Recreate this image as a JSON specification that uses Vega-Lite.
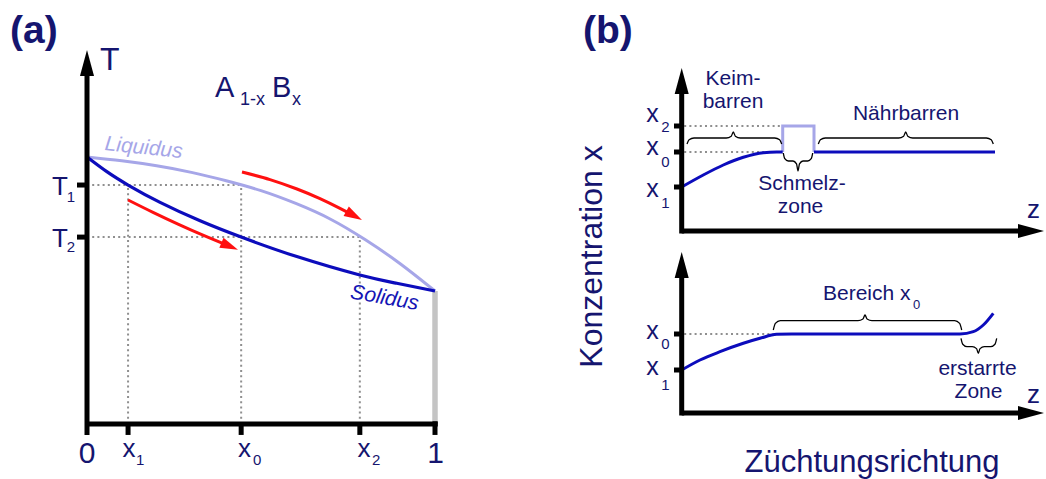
{
 "$schema": "https://vega.github.io/schema/vega-lite/v6.json",
 "padding": 0,
 "spacing": 0,
 "bounds": "flush",
 "background": "white",
 "config": {"view": {"stroke": null}, "text": {"font": "Liberation Sans"}},
 "datasets": {
  "aDots": [
   {"x":0,"y":0.895,"x2":0.443,"y2":0.895},
   {"x":0,"y":0.70,"x2":0.784,"y2":0.70},
   {"x":0.118,"y":0,"x2":0.118,"y2":0.895},
   {"x":0.443,"y":0,"x2":0.443,"y2":0.895},
   {"x":0.784,"y":0,"x2":0.784,"y2":0.70}
  ],
  "aBar": [{"x":1.0,"y":0,"x2":1.0,"y2":0.498}],
  "aAxes": [
   {"x":0,"y":-0.041,"x2":0,"y2":1.352},
   {"x":0,"y":0,"x2":1.008,"y2":0},
   {"x":0.118,"y":0,"x2":0.118,"y2":-0.041},
   {"x":0.443,"y":0,"x2":0.443,"y2":-0.041},
   {"x":0.784,"y":0,"x2":0.784,"y2":-0.041},
   {"x":1.0,"y":0.01,"x2":1.0,"y2":-0.041},
   {"x":-0.0287,"y":0.895,"x2":0,"y2":0.895},
   {"x":-0.0287,"y":0.70,"x2":0,"y2":0.70}
  ],
  "aHead": [{"x":0,"y":1.352}],
  "aLiq": [
   {"x":0,"y":1.0},{"x":0.1,"y":0.9856},{"x":0.2,"y":0.9669},{"x":0.3,"y":0.9425},
   {"x":0.4,"y":0.9111},{"x":0.5,"y":0.874},{"x":0.6,"y":0.826},{"x":0.7,"y":0.767},
   {"x":0.8,"y":0.69},{"x":0.9,"y":0.6003},{"x":1.0,"y":0.498}
  ],
  "aSol": [
   {"x":0,"y":1.0},{"x":0.057,"y":0.945},{"x":0.118,"y":0.895},{"x":0.21,"y":0.830},
   {"x":0.325,"y":0.761},{"x":0.443,"y":0.70},{"x":0.603,"y":0.627},{"x":0.784,"y":0.558},
   {"x":0.89,"y":0.527},{"x":1.0,"y":0.498}
  ],
  "aRed": [
   {"a":"lower","x":0.1178,"y":0.839},{"a":"lower","x":0.1897,"y":0.7925},{"a":"lower","x":0.2615,"y":0.7485},{"a":"lower","x":0.3333,"y":0.7071},{"a":"lower","x":0.4101,"y":0.6655},
   {"a":"upper","x":0.4454,"y":0.9438},{"a":"upper","x":0.5259,"y":0.9154},{"a":"upper","x":0.6034,"y":0.8801},{"a":"upper","x":0.6695,"y":0.8442},{"a":"upper","x":0.727,"y":0.8078},{"a":"upper","x":0.7675,"y":0.7801}
  ],
  "aRedHead": [{"x":0.4101,"y":0.6655,"ang":23},{"x":0.7675,"y":0.7801,"ang":29}],
  "aBold": [{"x":-0.2213,"y":1.427,"t":"(a)"}],
  "aTitleT": [{"x":0.0374,"y":1.326,"t":"T"}],
  "aFormula": [{"x":0.3678,"y":1.2247,"t":"A"},{"x":0.5316,"y":1.2247,"t":"B"}],
  "aFormulaSub": [{"x":0.4397,"y":1.1948,"t":"1-x"},{"x":0.589,"y":1.1948,"t":"x"}],
  "aLiqLabel": [{"x":0.161,"y":1.011,"t":"Liquidus"}],
  "aSolLabel": [{"x":0.852,"y":0.449,"t":"Solidus"}],
  "aTLabels": [{"x":-0.0776,"y":0.8577,"t":"T"},{"x":-0.0776,"y":0.664,"t":"T"}],
  "aTSubs": [{"x":-0.046,"y":0.8315,"t":"1"},{"x":-0.046,"y":0.6453,"t":"2"}],
  "aDigits": [{"x":0,"y":-0.1472,"t":"0"},{"x":1.0014,"y":-0.1472,"t":"1"}],
  "aXLabels": [{"x":0.102,"y":-0.1225,"t":"x"},{"x":0.4339,"y":-0.1225,"t":"x"},{"x":0.7773,"y":-0.1225,"t":"x"}],
  "aXSubs": [{"x":0.1408,"y":-0.1536,"t":"1"},{"x":0.477,"y":-0.1536,"t":"0"},{"x":0.819,"y":-0.1536,"t":"2"}],

  "b1Axes": [
   {"x":0,"y":-0.025,"x2":0,"y2":1.50},
   {"x":0,"y":0,"x2":3.493,"y2":0},
   {"x":-0.077,"y":0.44,"x2":0,"y2":0.44},
   {"x":-0.077,"y":0.79,"x2":0,"y2":0.79},
   {"x":-0.077,"y":1.05,"x2":0,"y2":1.05}
  ],
  "b1HeadUp": [{"x":0,"y":1.50}],
  "b1HeadRight": [{"x":3.493,"y":0}],
  "b1Dots": [
   {"x":0.025,"y":1.05,"x2":1.01,"y2":1.05},
   {"x":0.025,"y":0.79,"x2":0.95,"y2":0.79}
  ],
  "b1Zone": [
   {"i":0,"x":1.01,"y":0.79},{"i":1,"x":1.01,"y":1.05},{"i":2,"x":1.323,"y":1.05},{"i":3,"x":1.323,"y":0.79}
  ],
  "b1Curve": [
   {"s":"seed","x":0,"y":0.44},{"s":"seed","x":0.216,"y":0.56},{"s":"seed","x":0.416,"y":0.66},
   {"s":"seed","x":0.616,"y":0.737},{"s":"seed","x":0.816,"y":0.783},{"s":"seed","x":0.95,"y":0.79},
   {"s":"seed","x":1.01,"y":0.79},
   {"s":"feed","x":1.323,"y":0.79},{"s":"feed","x":3.133,"y":0.79}
  ],
  "b1Braces": [
   {"b":"keim","x":0.053,"y":0.87},{"b":"keim","x":0.0735,"y":0.912},{"b":"keim","x":0.123,"y":0.93},
   {"b":"keim","x":0.446,"y":0.93},{"b":"keim","x":0.4955,"y":0.948},{"b":"keim","x":0.516,"y":0.99},
   {"b":"keim","x":0.5365,"y":0.948},{"b":"keim","x":0.586,"y":0.93},{"b":"keim","x":0.93,"y":0.93},
   {"b":"keim","x":0.9795,"y":0.912},{"b":"keim","x":1.0,"y":0.87},
   {"b":"naehr","x":1.366,"y":0.87},{"b":"naehr","x":1.3865,"y":0.912},{"b":"naehr","x":1.436,"y":0.93},
   {"b":"naehr","x":2.17,"y":0.93},{"b":"naehr","x":2.2195,"y":0.948},{"b":"naehr","x":2.24,"y":0.99},
   {"b":"naehr","x":2.2605,"y":0.948},{"b":"naehr","x":2.31,"y":0.93},{"b":"naehr","x":3.046,"y":0.93},
   {"b":"naehr","x":3.0955,"y":0.912},{"b":"naehr","x":3.116,"y":0.87},
   {"b":"zone","x":1.016,"y":0.78},{"b":"zone","x":1.0307,"y":0.7234},{"b":"zone","x":1.066,"y":0.70},
   {"b":"zone","x":1.113,"y":0.70},{"b":"zone","x":1.1484,"y":0.6707},{"b":"zone","x":1.163,"y":0.60},
   {"b":"zone","x":1.1777,"y":0.6707},{"b":"zone","x":1.213,"y":0.70},{"b":"zone","x":1.26,"y":0.70},
   {"b":"zone","x":1.2953,"y":0.7234},{"b":"zone","x":1.31,"y":0.78}
  ],
  "b1Bold": [{"x":-0.987,"y":1.88,"t":"(b)"}],
  "b1Words": [
   {"x":0.513,"y":1.46,"t":"Keim-"},{"x":0.513,"y":1.227,"t":"barren"},
   {"x":2.243,"y":1.11,"t":"Nährbarren"},
   {"x":1.203,"y":0.41,"t":"Schmelz-"},{"x":1.188,"y":0.18,"t":"zone"}
  ],
  "b1Z": [{"x":3.453,"y":0.13,"t":"z"}],
  "b1XLabels": [{"x":-0.355,"y":1.093,"t":"x"},{"x":-0.355,"y":0.76,"t":"x"},{"x":-0.355,"y":0.343,"t":"x"}],
  "b1XSubs": [{"x":-0.205,"y":0.993,"t":"2"},{"x":-0.205,"y":0.643,"t":"0"},{"x":-0.205,"y":0.23,"t":"1"}],

  "b2Axes": [
   {"x":0,"y":-0.025,"x2":0,"y2":1.48},
   {"x":0,"y":0,"x2":3.493,"y2":0},
   {"x":-0.077,"y":0.43,"x2":0,"y2":0.43},
   {"x":-0.077,"y":0.79,"x2":0,"y2":0.79}
  ],
  "b2HeadUp": [{"x":0,"y":1.48}],
  "b2HeadRight": [{"x":3.493,"y":0}],
  "b2Dots": [{"x":0.025,"y":0.79,"x2":0.916,"y2":0.79}],
  "b2Curve": [
   {"x":0,"y":0.43},{"x":0.183,"y":0.53},{"x":0.383,"y":0.613},{"x":0.616,"y":0.697},
   {"x":0.783,"y":0.747},{"x":0.95,"y":0.787},{"x":1.1,"y":0.79},{"x":2.783,"y":0.79},
   {"x":2.916,"y":0.813},{"x":3.016,"y":0.88},{"x":3.116,"y":0.997}
  ],
  "b2Braces": [
   {"b":"bereich","x":0.916,"y":0.83},{"b":"bereich","x":0.9365,"y":0.8958},{"b":"bereich","x":0.986,"y":0.923},
   {"b":"bereich","x":1.763,"y":0.923},{"b":"bereich","x":1.8125,"y":0.9397},{"b":"bereich","x":1.833,"y":0.98},
   {"b":"bereich","x":1.8535,"y":0.9397},{"b":"bereich","x":1.903,"y":0.923},{"b":"bereich","x":2.73,"y":0.923},
   {"b":"bereich","x":2.7795,"y":0.8958},{"b":"bereich","x":2.8,"y":0.83},
   {"b":"erstarrt","x":2.793,"y":0.747},{"b":"erstarrt","x":2.8106,"y":0.6876},{"b":"erstarrt","x":2.853,"y":0.663},
   {"b":"erstarrt","x":2.906,"y":0.663},{"b":"erstarrt","x":2.9484,"y":0.6437},{"b":"erstarrt","x":2.966,"y":0.597},
   {"b":"erstarrt","x":2.9836,"y":0.6437},{"b":"erstarrt","x":3.026,"y":0.663},{"b":"erstarrt","x":3.09,"y":0.663},
   {"b":"erstarrt","x":3.1324,"y":0.6876},{"b":"erstarrt","x":3.15,"y":0.747}
  ],
  "b2WordsLeft": [{"x":1.413,"y":1.13,"t":"Bereich x"}],
  "b2WordsSub": [{"x":2.313,"y":1.04,"t":"0"}],
  "b2Words": [{"x":2.958,"y":0.38,"t":"erstarrte"},{"x":2.968,"y":0.15,"t":"Zone"}],
  "b2Z": [{"x":3.453,"y":0.10,"t":"z"}],
  "b2XLabels": [{"x":-0.355,"y":0.737,"t":"x"},{"x":-0.355,"y":0.38,"t":"x"}],
  "b2XSubs": [{"x":-0.205,"y":0.637,"t":"0"},{"x":-0.205,"y":0.23,"t":"1"}],
  "b2YTitle": [{"x":-0.797,"y":1.565,"t":"Konzentration x"}],
  "b2XTitle": [{"x":1.903,"y":-0.587,"t":"Züchtungsrichtung"}]
 },
 "hconcat": [
  {
   "width": 522,
   "height": 479,
   "encoding": {
    "x": {"field":"x","type":"quantitative","scale":{"domain":[-0.25,1.25],"nice":false,"zero":false},"axis":null},
    "y": {"field":"y","type":"quantitative","scale":{"domain":[-0.206,1.588],"nice":false,"zero":false},"axis":null}
   },
   "layer": [
    {"data":{"name":"aDots"},"mark":{"type":"rule","color":"#8f8f8f","strokeWidth":2,"strokeDash":[2,3.2]},"encoding":{"x2":{"field":"x2"},"y2":{"field":"y2"}}},
    {"data":{"name":"aBar"},"mark":{"type":"rule","color":"#c4c4c4","strokeWidth":5.5},"encoding":{"x2":{"field":"x2"},"y2":{"field":"y2"}}},
    {"data":{"name":"aLiq"},"mark":{"type":"line","color":"#a6a6e8","strokeWidth":3,"interpolate":"natural"},"encoding":{}},
    {"data":{"name":"aSol"},"mark":{"type":"line","color":"#0c0cbc","strokeWidth":3.2,"interpolate":"natural"},"encoding":{}},
    {"data":{"name":"aRed"},"mark":{"type":"line","color":"#ff1010","strokeWidth":3,"interpolate":"natural"},"encoding":{"detail":{"field":"a"}}},
    {"data":{"name":"aRedHead"},"mark":{"type":"point","filled":true,"opacity":1,"color":"#ff1010","strokeWidth":0,"shape":"M1,0L-1,-0.6L-1,0.6Z","size":324},"encoding":{"angle":{"field":"ang","type":"quantitative","scale":null}}},
    {"data":{"name":"aAxes"},"mark":{"type":"rule","color":"black","strokeWidth":5},"encoding":{"x2":{"field":"x2"},"y2":{"field":"y2"}}},
    {"data":{"name":"aHead"},"mark":{"type":"point","filled":true,"opacity":1,"color":"black","strokeWidth":0,"shape":"M0,-1L0.54,1L-0.54,1Z","size":676}},
    {"data":{"name":"aBold"},"mark":{"type":"text","font":"Liberation Sans","fontSize":39,"fontWeight":"bold","color":"#15156f","align":"left","baseline":"alphabetic"},"encoding":{"text":{"field":"t"}}},
    {"data":{"name":"aTitleT"},"mark":{"type":"text","font":"Liberation Sans","fontSize":32,"color":"#15156f","align":"left","baseline":"alphabetic"},"encoding":{"text":{"field":"t"}}},
    {"data":{"name":"aFormula"},"mark":{"type":"text","font":"Liberation Sans","fontSize":29,"color":"#15156f","align":"left","baseline":"alphabetic"},"encoding":{"text":{"field":"t"}}},
    {"data":{"name":"aFormulaSub"},"mark":{"type":"text","font":"Liberation Sans","fontSize":18,"color":"#15156f","align":"left","baseline":"alphabetic"},"encoding":{"text":{"field":"t"}}},
    {"data":{"name":"aLiqLabel"},"mark":{"type":"text","font":"Liberation Sans","fontSize":21,"fontStyle":"italic","color":"#a6a6e8","align":"center","baseline":"alphabetic","angle":6},"encoding":{"text":{"field":"t"}}},
    {"data":{"name":"aSolLabel"},"mark":{"type":"text","font":"Liberation Sans","fontSize":21,"fontStyle":"italic","color":"#1414b4","align":"center","baseline":"alphabetic","angle":10},"encoding":{"text":{"field":"t"}}},
    {"data":{"name":"aTLabels"},"mark":{"type":"text","font":"Liberation Sans","fontSize":26,"color":"#15156f","align":"center","baseline":"alphabetic"},"encoding":{"text":{"field":"t"}}},
    {"data":{"name":"aTSubs"},"mark":{"type":"text","font":"Liberation Sans","fontSize":15,"color":"#15156f","align":"center","baseline":"alphabetic"},"encoding":{"text":{"field":"t"}}},
    {"data":{"name":"aDigits"},"mark":{"type":"text","font":"Liberation Sans","fontSize":30,"color":"#15156f","align":"center","baseline":"alphabetic"},"encoding":{"text":{"field":"t"}}},
    {"data":{"name":"aXLabels"},"mark":{"type":"text","font":"Liberation Sans","fontSize":26,"color":"#15156f","align":"left","baseline":"alphabetic"},"encoding":{"text":{"field":"t"}}},
    {"data":{"name":"aXSubs"},"mark":{"type":"text","font":"Liberation Sans","fontSize":15,"color":"#15156f","align":"left","baseline":"alphabetic"},"encoding":{"text":{"field":"t"}}}
   ]
  },
  {
   "vconcat": [
    {
     "width": 524,
     "height": 240,
     "encoding": {
      "x": {"field":"x","type":"quantitative","scale":{"domain":[-1.597,3.643],"nice":false,"zero":false},"axis":null},
      "y": {"field":"y","type":"quantitative","scale":{"domain":[-0.09,2.31],"nice":false,"zero":false},"axis":null}
     },
     "layer": [
      {"data":{"name":"b1Dots"},"mark":{"type":"rule","color":"#8f8f8f","strokeWidth":2,"strokeDash":[2,3.2]},"encoding":{"x2":{"field":"x2"},"y2":{"field":"y2"}}},
      {"data":{"name":"b1Zone"},"mark":{"type":"line","color":"#a6a6e8","strokeWidth":3},"encoding":{"order":{"field":"i","type":"quantitative"}}},
      {"data":{"name":"b1Curve"},"mark":{"type":"line","color":"#0c0cbc","strokeWidth":3,"interpolate":"monotone"},"encoding":{"detail":{"field":"s"}}},
      {"data":{"name":"b1Braces"},"mark":{"type":"line","color":"black","strokeWidth":1.3,"interpolate":"monotone"},"encoding":{"detail":{"field":"b"}}},
      {"data":{"name":"b1Axes"},"mark":{"type":"rule","color":"black","strokeWidth":5},"encoding":{"x2":{"field":"x2"},"y2":{"field":"y2"}}},
      {"data":{"name":"b1HeadUp"},"mark":{"type":"point","filled":true,"opacity":1,"color":"black","strokeWidth":0,"shape":"M0,-1L0.54,1L-0.54,1Z","size":676}},
      {"data":{"name":"b1HeadRight"},"mark":{"type":"point","filled":true,"opacity":1,"color":"black","strokeWidth":0,"shape":"M1,0L-1,-0.54L-1,0.54Z","size":676}},
      {"data":{"name":"b1Bold"},"mark":{"type":"text","font":"Liberation Sans","fontSize":39,"fontWeight":"bold","color":"#15156f","align":"left","baseline":"alphabetic"},"encoding":{"text":{"field":"t"}}},
      {"data":{"name":"b1Words"},"mark":{"type":"text","font":"Liberation Sans","fontSize":21,"color":"#15156f","align":"center","baseline":"alphabetic"},"encoding":{"text":{"field":"t"}}},
      {"data":{"name":"b1Z"},"mark":{"type":"text","font":"Liberation Sans","fontSize":26,"color":"#15156f","align":"left","baseline":"alphabetic"},"encoding":{"text":{"field":"t"}}},
      {"data":{"name":"b1XLabels"},"mark":{"type":"text","font":"Liberation Sans","fontSize":25,"color":"#15156f","align":"left","baseline":"alphabetic"},"encoding":{"text":{"field":"t"}}},
      {"data":{"name":"b1XSubs"},"mark":{"type":"text","font":"Liberation Sans","fontSize":15,"color":"#15156f","align":"left","baseline":"alphabetic"},"encoding":{"text":{"field":"t"}}}
     ]
    },
    {
     "width": 524,
     "height": 239,
     "encoding": {
      "x": {"field":"x","type":"quantitative","scale":{"domain":[-1.597,3.643],"nice":false,"zero":false},"axis":null},
      "y": {"field":"y","type":"quantitative","scale":{"domain":[-0.66,1.73],"nice":false,"zero":false},"axis":null}
     },
     "layer": [
      {"data":{"name":"b2Dots"},"mark":{"type":"rule","color":"#8f8f8f","strokeWidth":2,"strokeDash":[2,3.2]},"encoding":{"x2":{"field":"x2"},"y2":{"field":"y2"}}},
      {"data":{"name":"b2Curve"},"mark":{"type":"line","color":"#0c0cbc","strokeWidth":3,"interpolate":"monotone"},"encoding":{}},
      {"data":{"name":"b2Braces"},"mark":{"type":"line","color":"black","strokeWidth":1.3,"interpolate":"monotone"},"encoding":{"detail":{"field":"b"}}},
      {"data":{"name":"b2Axes"},"mark":{"type":"rule","color":"black","strokeWidth":5},"encoding":{"x2":{"field":"x2"},"y2":{"field":"y2"}}},
      {"data":{"name":"b2HeadUp"},"mark":{"type":"point","filled":true,"opacity":1,"color":"black","strokeWidth":0,"shape":"M0,-1L0.54,1L-0.54,1Z","size":676}},
      {"data":{"name":"b2HeadRight"},"mark":{"type":"point","filled":true,"opacity":1,"color":"black","strokeWidth":0,"shape":"M1,0L-1,-0.54L-1,0.54Z","size":676}},
      {"data":{"name":"b2WordsLeft"},"mark":{"type":"text","font":"Liberation Sans","fontSize":21,"color":"#15156f","align":"left","baseline":"alphabetic"},"encoding":{"text":{"field":"t"}}},
      {"data":{"name":"b2WordsSub"},"mark":{"type":"text","font":"Liberation Sans","fontSize":13,"color":"#15156f","align":"left","baseline":"alphabetic"},"encoding":{"text":{"field":"t"}}},
      {"data":{"name":"b2Words"},"mark":{"type":"text","font":"Liberation Sans","fontSize":21,"color":"#15156f","align":"center","baseline":"alphabetic"},"encoding":{"text":{"field":"t"}}},
      {"data":{"name":"b2Z"},"mark":{"type":"text","font":"Liberation Sans","fontSize":26,"color":"#15156f","align":"left","baseline":"alphabetic"},"encoding":{"text":{"field":"t"}}},
      {"data":{"name":"b2XLabels"},"mark":{"type":"text","font":"Liberation Sans","fontSize":25,"color":"#15156f","align":"left","baseline":"alphabetic"},"encoding":{"text":{"field":"t"}}},
      {"data":{"name":"b2XSubs"},"mark":{"type":"text","font":"Liberation Sans","fontSize":15,"color":"#15156f","align":"left","baseline":"alphabetic"},"encoding":{"text":{"field":"t"}}},
      {"data":{"name":"b2YTitle"},"mark":{"type":"text","font":"Liberation Sans","fontSize":32,"color":"#15156f","align":"center","baseline":"alphabetic","angle":270},"encoding":{"text":{"field":"t"}}},
      {"data":{"name":"b2XTitle"},"mark":{"type":"text","font":"Liberation Sans","fontSize":31,"color":"#15156f","align":"center","baseline":"alphabetic"},"encoding":{"text":{"field":"t"}}}
     ]
    }
   ],
   "spacing": 0,
   "bounds": "flush"
  }
 ]
}
